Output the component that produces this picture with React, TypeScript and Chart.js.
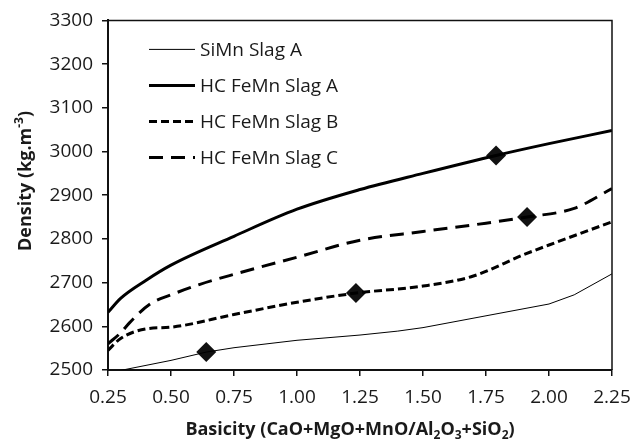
import React, { useEffect, useRef } from "react";
import { Chart, registerables } from "chart.js";

Chart.register(...registerables);

// ---- Data ----
const basicitySiMnA = [0.25, 0.3, 0.5, 0.64, 0.75, 1.0, 1.25, 1.4, 1.5, 1.75, 2.0, 2.1, 2.25];
const densitySiMnA = [2488, 2499, 2522, 2541, 2551, 2568, 2580, 2589, 2597, 2624, 2651, 2672, 2720];

const basicityHCA = [0.25, 0.3, 0.4, 0.5, 0.75, 1.0, 1.25, 1.5, 1.79, 2.0, 2.25];
const densityHCA = [2632, 2664, 2705, 2740, 2806, 2868, 2913, 2950, 2991, 3018, 3048];

const basicityHCB = [0.25, 0.3, 0.4, 0.5, 0.75, 1.0, 1.234, 1.5, 1.7, 1.9, 2.0, 2.25];
const densityHCB = [2545, 2572, 2594, 2598, 2627, 2655, 2676, 2692, 2715, 2764, 2786, 2839];

const basicityHCC = [0.25, 0.3, 0.337, 0.417, 0.5, 0.615, 0.75, 1.0, 1.25, 1.5, 1.75, 1.913, 2.1, 2.25];
const densityHCC = [2560, 2585, 2609, 2651, 2672, 2696, 2719, 2758, 2797, 2817, 2836, 2850, 2870, 2915];

const markerBasicity = [0.64, 1.234, 1.79, 1.913];
const markerDensity = [2541, 2676, 2991, 2850];

const seriesNames = ["SiMn Slag A", "HC FeMn Slag A", "HC FeMn Slag B", "HC FeMn Slag C"];

const xTickMin = 0.25;
const xTickMax = 2.25;
const xTickStep = 0.25;
const yTickMin = 2500;
const yTickMax = 3300;
const yTickStep = 100;

const FONT = "'Open Sans', 'Noto Sans', sans-serif";
const TEXT = "#1a1a1a";

function pts(xs: number[], ys: number[]) {
  return xs.map((x, i) => ({ x, y: ys[i] }));
}

const overlayPlugin = {
  id: "overlay",
  afterDraw(chart: any) {
    const { ctx, chartArea: ca } = chart;
    ctx.save();
    // frame top & right
    ctx.strokeStyle = "#111";
    ctx.lineWidth = 1.5;
    ctx.beginPath();
    ctx.moveTo(ca.left, ca.top);
    ctx.lineTo(ca.right, ca.top);
    ctx.lineTo(ca.right, ca.bottom);
    ctx.stroke();

    // legend
    const lx0 = ca.left + 41;
    const lx1 = ca.left + 87;
    const tx = ca.left + 92;
    ctx.font = `19px ${FONT}`;
    ctx.textBaseline = "middle";
    ctx.textAlign = "left";
    seriesNames.forEach((name, i) => {
      const ds = chart.data.datasets[i];
      const y = ca.top + 29 + i * 36;
      ctx.save();
      ctx.strokeStyle = ds.borderColor;
      ctx.lineWidth = ds.borderWidth;
      ctx.setLineDash(ds.borderDash || []);
      ctx.beginPath();
      ctx.moveTo(lx0, y);
      ctx.lineTo(lx1, y);
      ctx.stroke();
      ctx.restore();
      ctx.fillStyle = TEXT;
      ctx.fillText(name, tx, y + 1);
    });

    // x axis title with subscripts
    const parts: [string, boolean][] = [
      ["Basicity (CaO+MgO+MnO/Al", false],
      ["2", true],
      ["O", false],
      ["3", true],
      ["+SiO", false],
      ["2", true],
      [")", false],
    ];
    const big = `bold 18px ${FONT}`;
    const small = `bold 12px ${FONT}`;
    let total = 0;
    parts.forEach(([t, s]) => {
      ctx.font = s ? small : big;
      total += ctx.measureText(t).width;
    });
    let x = 350 - total / 2;
    const baseY = 435;
    ctx.textBaseline = "alphabetic";
    ctx.fillStyle = TEXT;
    parts.forEach(([t, s]) => {
      ctx.font = s ? small : big;
      ctx.fillText(t, x, s ? baseY + 4 : baseY);
      x += ctx.measureText(t).width;
    });

    // y axis title with superscript
    const yparts: [string, boolean][] = [
      ["Density (kg.m", false],
      ["-3", true],
      [")", false],
    ];
    let ytotal = 0;
    yparts.forEach(([t, s]) => {
      ctx.font = s ? small : big;
      ytotal += ctx.measureText(t).width;
    });
    ctx.translate(31, 181);
    ctx.rotate(-Math.PI / 2);
    let yx = -ytotal / 2;
    yparts.forEach(([t, s]) => {
      ctx.font = s ? small : big;
      ctx.fillText(t, yx, s ? -8 : 0);
      yx += ctx.measureText(t).width;
    });
    ctx.restore();
  },
};

export default function App() {
  const ref = useRef<HTMLCanvasElement | null>(null);
  useEffect(() => {
    document.body.style.margin = "0";
    const canvas = ref.current!;
    const common = { pointRadius: 0, fill: false, borderColor: "#000", backgroundColor: "#000" };
    const chart = new Chart(canvas, {
      type: "line",
      data: {
        datasets: [
          { ...common, label: seriesNames[0], data: pts(basicitySiMnA, densitySiMnA), borderWidth: 1, tension: 0 },
          { ...common, label: seriesNames[1], data: pts(basicityHCA, densityHCA), borderWidth: 3, cubicInterpolationMode: "monotone" },
          { ...common, label: seriesNames[2], data: pts(basicityHCB, densityHCB), borderWidth: 3, borderDash: [8, 4], cubicInterpolationMode: "monotone" },
          { ...common, label: seriesNames[3], data: pts(basicityHCC, densityHCC), borderWidth: 3, borderDash: [14, 8], cubicInterpolationMode: "monotone" },
          {
            label: "markers",
            data: pts(markerBasicity, markerDensity),
            showLine: false,
            pointStyle: "rectRot",
            pointRadius: 10,
            pointBackgroundColor: "#111",
            pointBorderColor: "#111",
            pointBorderWidth: 0,
          } as any,
        ],
      },
      options: {
        animation: false,
        responsive: false,
        devicePixelRatio: 1,
        layout: { padding: { left: 0, top: 16, right: 32, bottom: 0 } },
        plugins: { legend: { display: false }, tooltip: { enabled: false } },
        scales: {
          x: {
            type: "linear",
            min: xTickMin,
            max: xTickMax,
            afterFit: (s: any) => { s.height = 72; },
            ticks: {
              stepSize: xTickStep,
              padding: 10,
              color: TEXT,
              font: { family: FONT, size: 19 },
              callback: (v: any) => Number(v).toFixed(2),
            },
            grid: { drawOnChartArea: false, drawTicks: true, tickLength: 6, color: "#111", lineWidth: 1.5 },
            border: { display: true, color: "#111", width: 2 },
          },
          y: {
            type: "linear",
            min: yTickMin,
            max: yTickMax,
            afterFit: (s: any) => { s.width = 108; },
            ticks: {
              stepSize: yTickStep,
              padding: 9,
              color: TEXT,
              font: { family: FONT, size: 19 },
              callback: (v: any) => String(Math.round(Number(v))),
            },
            grid: { drawOnChartArea: false, drawTicks: true, tickLength: 6, color: "#111", lineWidth: 1.5 },
            border: { display: true, color: "#111", width: 2 },
          },
        },
      },
      plugins: [overlayPlugin],
    } as any);
    return () => chart.destroy();
  }, []);
  return (
    <div style={{ width: 644, height: 442, background: "#fff" }}>
      <canvas ref={ref} width={644} height={442} style={{ width: 644, height: 442, display: "block" }} />
    </div>
  );
}
